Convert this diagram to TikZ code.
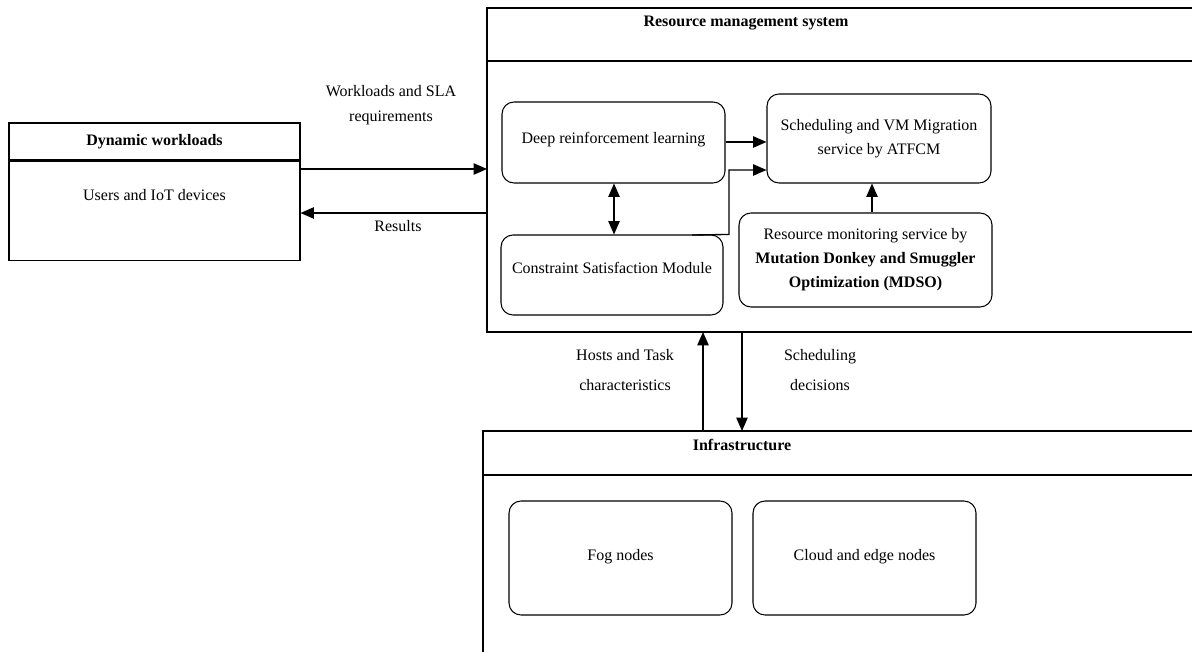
\documentclass[tikz,border=0pt]{standalone}
\usepackage{fontspec}
\setmainfont{Liberation Serif}
\usetikzlibrary{arrows.meta, positioning}

\begin{document}
\begin{tikzpicture}[x=0.75pt, y=-0.75pt,
	font=\fontsize{12}{18}\selectfont,
	module/.style={draw, line width=0.8pt, rounded corners=9pt, align=center, inner sep=0pt},
	plainbox/.style={draw, line width=0.8pt, inner sep=0pt},
	flow/.style={-{Triangle[length=10pt, width=8.5pt]}, line width=1pt},
	twoway/.style={{Triangle[length=10pt, width=8.5pt]}-{Triangle[length=10pt, width=8.5pt]}, line width=1pt},
	lbl/.style={align=center, inner sep=0pt}]
				\useasboundingbox (0,0) rectangle (1192,652);
				
				% dynamic workloads
				\node[plainbox, minimum width=218.25pt, minimum height=27.75pt] (dwtitle) at (154.5,141.5) {\bfseries Dynamic workloads};
				\node[plainbox, minimum width=218.25pt, minimum height=74.25pt, anchor=north] (dwbody) at (dwtitle.south) {};
				\node[lbl] (users) at (154.5,195) {Users and IoT devices};
				
				% resource management system
				\coordinate (rmsNW) at (487,8);
				\coordinate (rmsSW) at (487,332);
				\draw[line width=0.8pt] (1193,8) -- (rmsNW) -- (rmsSW) -- (1193,332);
				\draw[line width=1pt] (487,61) -- (1193,61);
				\node[lbl] (rmstitle) at (746,23) {\bfseries Resource management system};
				
				\node[module, minimum width=167.25pt, minimum height=60.75pt, text depth=7pt] (drl) at (613.5,142.5) {Deep reinforcement learning};
				\node[module, minimum width=166.5pt, minimum height=60pt, text depth=10.5pt] (csm) at (612,275) {Constraint Satisfaction Module};
				\node[module, minimum width=168pt, minimum height=66.75pt] (sched) at (879,138.5) {Scheduling and VM Migration\\service by ATFCM};
				\node[module, minimum width=189.75pt, minimum height=70.5pt] (mdso) at (865.5,260) {Resource monitoring service by\\\bfseries Mutation Donkey and Smuggler\\\bfseries Optimization (MDSO)};
				
				% infrastructure
				\coordinate (infNW) at (483,431);
				\draw[line width=0.8pt] (483,660) -- (infNW) -- (1193,431);
				\draw[line width=0.8pt] (483,475) -- (1193,475);
				\node[lbl] (inftitle) at (742,445) {\bfseries Infrastructure};
				\node[module, minimum width=167.25pt, minimum height=85.5pt, text depth=5pt] (fog) at (620.5,558) {Fog nodes};
				\node[module, minimum width=167.25pt, minimum height=85.5pt, text depth=5pt] (cloud) at (864.5,558) {Cloud and edge nodes};
				
				% connectors
				\coordinate (wlin) at (487,169);
				\coordinate (resout) at (487,213);
				\draw[flow] (dwbody.east |- wlin) -- (wlin);
				\draw[flow] (resout) -- (dwbody.east |- resout);
				\draw[flow] (drl.east |- 0,142) -- (sched.west |- 0,142);
				\coordinate (bend) at (729,170);
				\draw[flow] (692,235) -- (bend |- csm.north) -- (bend) -- (sched.west |- bend);
				\draw[twoway] (drl.south -| 614,0) -- (csm.north -| 614,0);
				\draw[flow] (mdso.north -| 872,0) -- (sched.south -| 872,0);
				\draw[flow] (infNW -| 703,0) -- (rmsSW -| 703,0);
				\draw[flow] (rmsSW -| 742,0) -- (infNW -| 742,0);
				
				% connector labels
				\node[lbl, font=\fontsize{12}{19}\selectfont] (wlabel) at (391,105) {Workloads and SLA\\requirements};
				\node[lbl] (rlabel) at (398,226) {Results};
				\node[lbl, font=\fontsize{12}{22}\selectfont] (hlabel) at (625,370) {Hosts and Task\\characteristics};
				\node[lbl, font=\fontsize{12}{22}\selectfont] (slabel) at (820,370) {Scheduling\\decisions};
\end{tikzpicture}
\end{document}
